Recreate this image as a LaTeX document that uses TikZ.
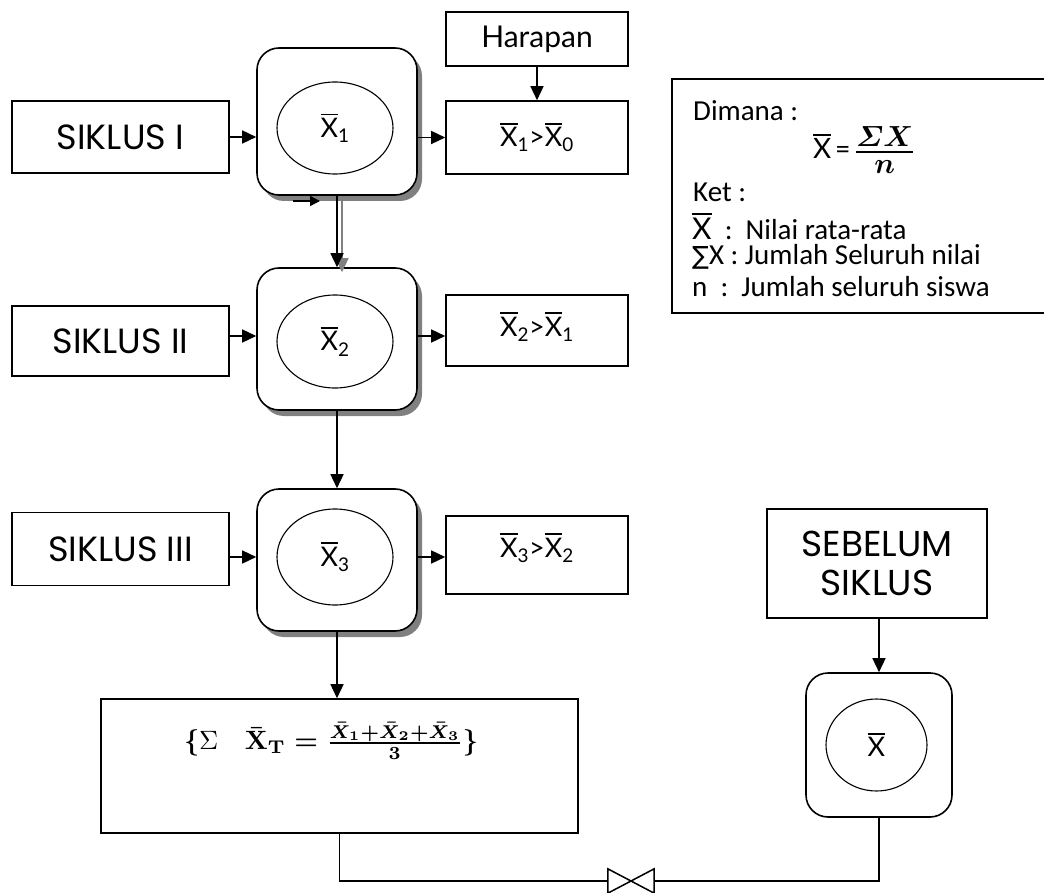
\documentclass[tikz,border=0pt]{standalone}
\usepackage{graphicx}
\usepackage{amsmath}
\usepackage{fontspec}
\setmainfont{Carlito}
\newfontfamily\handfont{Poppins}
\newfontfamily\thinfont{Lato}
\newfontfamily\symfont{DejaVu Sans}
\usetikzlibrary{arrows.meta,shadows,shapes.geometric}

% letter with a bar above it
\newcommand\xbar[1][X]{\vbox{\hrule height .07em\kern .1em\hbox{#1}}}

\tikzset{
  box/.style={draw, line width=1.6pt, inner sep=0pt, fill=white},
  rbox/.style={draw, line width=1.6pt, rounded corners=22pt, fill=white, inner sep=0pt},
  shad/.style={drop shadow={shadow xshift=5pt, shadow yshift=-6pt, fill=gray, opacity=1}},
  ell/.style={draw, ellipse, line width=1.1pt, inner sep=0pt},
  conn/.style={line width=1.5pt},
  arr/.style={conn, -{Triangle[length=14pt,width=13pt]}},
  smallarr/.style={conn, -{Triangle[length=10pt,width=10pt]}},
  cycle label/.style={font=\handfont\fontsize{35}{39}\selectfont},
  bar label/.style={font=\thinfont\fontsize{27}{28}\selectfont},
  legend text/.style={anchor=west, font=\fontsize{29}{30}\selectfont, inner sep=0pt},
}

\begin{document}
\begin{tikzpicture}[x=1pt,y=-1pt]
\useasboundingbox (0,0) rectangle (1044,893);

% cycle inputs
\node[box, minimum width=217pt, minimum height=72pt, cycle label] (s1) at (120.5,137) {SIKLUS I};
\node[box, minimum width=217pt, minimum height=70pt, cycle label] (s2) at (120.5,341) {SIKLUS II};
\node[box, minimum width=217pt, minimum height=73pt, cycle label] (s3) at (120.5,549) {SIKLUS III};

% mean boxes with shadow
\node[rbox, shad, minimum width=160pt, minimum height=147pt] (r1) at (337,121.5) {};
\node[rbox, shad, minimum width=160pt, minimum height=142pt] (r2) at (337,339) {};
\node[rbox, shad, minimum width=160pt, minimum height=142pt] (r3) at (337,560) {};

\node[ell, minimum width=116pt, minimum height=92pt, bar label] (e1) at (335,128) {\xbar\textsubscript{1}};
\node[ell, minimum width=116pt, minimum height=93pt, bar label] (e2) at (335,341.5) {\xbar\textsubscript{2}};
\node[ell, minimum width=116pt, minimum height=96pt, bar label] (e3) at (335,557) {\xbar\textsubscript{3}};

% comparisons
\node[box, minimum width=182pt, minimum height=54pt, font=\thinfont\fontsize{30}{30}\selectfont] (hp) at (537,39) {Harapan};
\node[box, minimum width=182pt, minimum height=73pt, bar label] (g1) at (537,137.5) {\xbar\textsubscript{1}>\xbar\textsubscript{0}};
\node[box, minimum width=182pt, minimum height=71pt] (g2) at (537,330.5) {};
\node[bar label] (g2t) at (537,327) {\xbar\textsubscript{2}>\xbar\textsubscript{1}};
\node[box, minimum width=182pt, minimum height=78pt] (g3) at (537,555) {};
\node[bar label] (g3t) at (537,548) {\xbar\textsubscript{3}>\xbar\textsubscript{2}};

% legend
\node[draw, line width=1.6pt, minimum width=378pt, minimum height=234pt] (leg) at (861,196) {};
\node[legend text] (l1) at (693,111) {Dimana :};
\node[font=\fontsize{28}{28}\selectfont] (l2) at (864,150) {{\thinfont\xbar}\,=\,\raisebox{-2pt}{\scalebox{1.4}{\boldmath$\frac{\varSigma X}{n}$}}};
\node[legend text] (l3) at (693,192) {Ket :};
\node[legend text] (l4) at (692,226) {{\thinfont\fontsize{30}{30}\selectfont\xbar}\ \ :\ \ Nilai rata-rata};
\node[legend text] (l5) at (692,257) {{\symfont\fontsize{25}{26}\selectfont ∑}X : Jumlah Seluruh nilai};
\node[legend text] (l6) at (692,287) {n\ \ :\ \ Jumlah seluruh siswa};

% total
\node[box, minimum width=477pt, minimum height=134pt] (fm) at (339.5,766) {};
\node (fmt) at (331,741) {\scalebox{2.65}{\boldmath$\{\mbox{\unboldmath$\Sigma$}\quad \bar{\mathbf{X}}_{\mathbf{T}}=\textstyle\frac{\bar{X}_1+\bar{X}_2+\bar{X}_3}{\mathbf{3}}\}$}};

% before the cycles
\node[box, minimum width=220pt, minimum height=109pt, font=\handfont\fontsize{36}{39}\selectfont, align=center] (sb) at (877,563.5) {SEBELUM\\SIKLUS};
\node[rbox, minimum width=146pt, minimum height=144pt] (r4) at (879,745) {};
\node[ell, minimum width=101pt, minimum height=92pt, bar label] (e4) at (876.5,745) {\xbar};

% comparison symbol
\node[minimum width=46pt, minimum height=24pt, inner sep=0pt] (v) at (631,881) {};
\draw[line width=1.5pt, line join=miter] (v.north west) -- (v.south east) -- (v.north east) -- (v.south west) -- cycle;

% connectors
\draw[arr] (s1.east) -- (s1.east -| r1.west);
\draw[arr] (s2.east |- 0,336) -- (r2.west |- 0,336);
\draw[arr] (s3.east |- e3.center) -- (r3.west |- e3.center);
\draw[arr] (r1.east |- g1.west) -- (g1.west);
\draw[arr] (r2.east |- 0,336) -- (g2.west |- 0,336);
\draw[arr] (r3.east |- e3.center) -- (g3.west |- e3.center);
\draw[arr] (hp.south) -- (g1.north);

\draw[arr, gray] ([xshift=5pt,yshift=-3pt]r1.south) -- ([xshift=5pt,yshift=-5pt]r2.north);
\draw[arr] (r1.south) -- (r2.north);
\coordinate (t1) at (293,201);
\coordinate (t2) at (320,201);
\draw[smallarr] (t1) -- (t2);

\draw[arr] (r2.south) -- (r3.north);
\draw[arr] (r3.south) -- (r3.south |- fm.north);
\draw[arr] (sb.south -| r4.north) -- (r4.north);

\draw[conn] (fm.south) |- (v.west);
\draw[conn] (v.east) -| (r4.south);
\end{tikzpicture}
\end{document}
